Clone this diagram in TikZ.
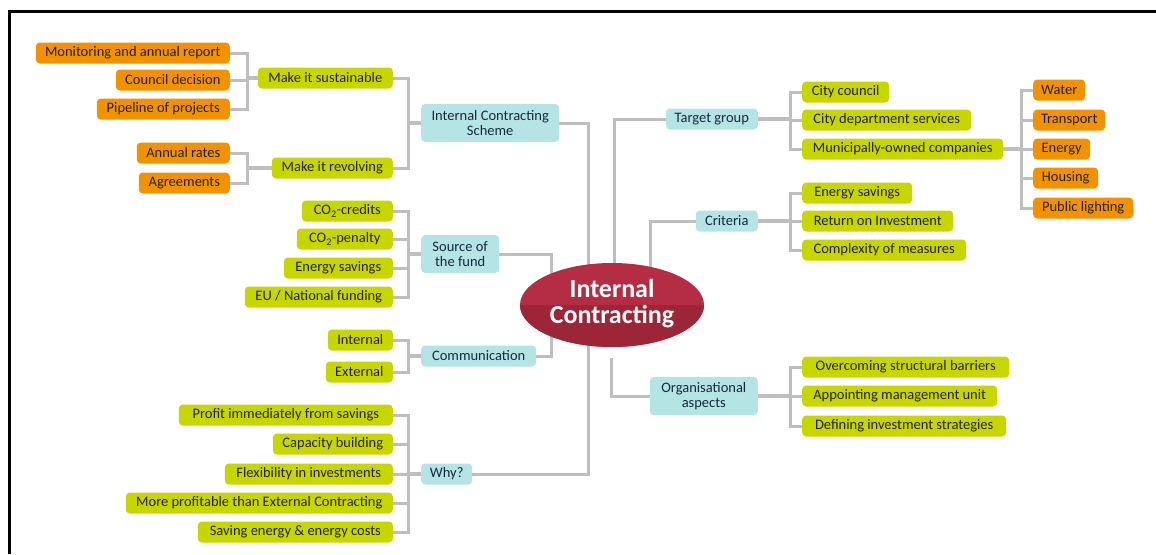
\documentclass[tikz,border=0pt]{standalone}
\usepackage{fontspec}
\setmainfont{Carlito}
\usetikzlibrary{shapes.geometric}
\pgfdeclarelayer{bg}\pgfsetlayers{bg,main}
\definecolor{gfill}{RGB}{200,214,0}
\definecolor{ofill}{RGB}{243,146,0}
\definecolor{bfill}{RGB}{180,228,228}
\definecolor{lgray}{RGB}{190,190,190}
\definecolor{txt}{RGB}{35,30,15}
\definecolor{btxt}{RGB}{25,40,65}
\definecolor{redtop}{RGB}{181,45,68}
\definecolor{reddark}{RGB}{157,37,56}
\newcommand{\leftbrack}[3]{%
  \foreach \c in {#1} {\draw[conn] (\c.east) -- (\c.east -| #3) -- (#3 |- #2.west);}
  \draw[pconn] (#3 |- #2.west) -- (#2.west);}
\newcommand{\rightbrack}[3]{%
  \foreach \c in {#1} {\draw[conn] (\c.west) -- (\c.west -| #3) -- (#3 |- #2.east);}
  \draw[pconn] (#3 |- #2.east) -- (#2.east);}
\begin{document}
\begin{tikzpicture}[x=1pt,y=-1pt,
  box/.style={rounded corners=4pt, inner sep=0pt, minimum height=21pt,
    font=\fontsize{14.5}{15.5}\selectfont, align=center},
  gb/.style={box, fill=gfill, text=txt},
  ob/.style={box, fill=ofill, text=txt},
  bb/.style={box, fill=bfill, text=btxt},
  conn/.style={draw=lgray, line width=3pt},
  pconn/.style={draw=lgray, line width=4.5pt}]
\useasboundingbox (0,0) rectangle (1156,554);
\draw[line width=3pt] (9.5,554) -- (9.5,11.7) -- (1156,11.7);

% central ellipse
\fill[redtop] (612,305) ellipse [x radius=92pt, y radius=42pt];
\begin{scope}
  \clip (510,305) rectangle (715,350);
  \fill[reddark] (612,305) ellipse [x radius=92pt, y radius=42pt];
\end{scope}
\node[ellipse, minimum width=184pt, minimum height=84pt, inner sep=0pt, text=white,
  font=\bfseries\fontsize{26}{26}\selectfont, align=center] (ic) at (612,304) {Internal\\Contracting};

% left orange
\node[ob, anchor=east, minimum width=194pt] (om1) at (230,53) {Monitoring and annual report};
\node[ob, anchor=east, minimum width=114pt] (om2) at (230,80) {Council decision};
\node[ob, anchor=east, minimum width=133pt] (om3) at (230,109) {Pipeline of projects};
\node[ob, anchor=east, minimum width=93pt] (om4) at (230,153) {Annual rates};
\node[ob, anchor=east, minimum width=91pt] (om5) at (230,183) {Agreements};

% left green
\node[gb, anchor=east, minimum width=135pt] (ms) at (393,78) {Make it sustainable};
\node[gb, anchor=east, minimum width=121pt] (mr) at (393,168) {Make it revolving};
\node[gb, anchor=east, minimum width=91pt] (s1) at (393,211) {CO\textsubscript{2}-credits};
\node[gb, anchor=east, minimum width=96pt] (s2) at (393,239) {CO\textsubscript{2}-penalty};
\node[gb, anchor=east, minimum width=109pt] (s3) at (393,268) {Energy savings};
\node[gb, anchor=east, minimum width=148pt] (s4) at (393,297) {EU / National funding};
\node[gb, anchor=east, minimum width=65pt] (c1) at (393,340) {Internal};
\node[gb, anchor=east, minimum width=67pt] (c2) at (393,372) {External};
\node[gb, anchor=east, minimum width=214pt] (w1) at (393,415) {Profit immediately from savings};
\node[gb, anchor=east, minimum width=120pt] (w2) at (393,444) {Capacity building};
\node[gb, anchor=east, minimum width=168pt] (w3) at (393,474) {Flexibility in investments};
\node[gb, anchor=east, minimum width=267pt] (w4) at (393,503) {More profitable than External Contracting};
\node[gb, anchor=east, minimum width=195pt] (w5) at (393,532) {Saving energy \& energy costs};

% blue left
\node[bb, anchor=west, minimum width=138pt, minimum height=38pt] (ics) at (421,123) {Internal Contracting\\Scheme};
\node[bb, anchor=west, minimum width=78pt, minimum height=38pt] (src) at (421,254) {Source of\\the fund};
\node[bb, anchor=west, minimum width=115pt] (com) at (421,356) {Communication};
\node[bb, anchor=west, minimum width=51pt] (why) at (421,474) {Why?};

% blue right
\node[bb, anchor=east, minimum width=92pt] (tg) at (758,119) {Target group};
\node[bb, anchor=east, minimum width=62pt] (cr) at (758,221) {Criteria};
\node[bb, anchor=east, minimum width=108pt, minimum height=38pt] (org) at (758,396) {Organisational\\aspects};

% right green
\node[gb, anchor=west, minimum width=87pt] (t1) at (802,92) {City council};
\node[gb, anchor=west, minimum width=169pt] (t2) at (802,120) {City department services};
\node[gb, anchor=west, minimum width=201pt] (t3) at (802,149) {Municipally-owned companies};
\node[gb, anchor=west, minimum width=110pt] (k1) at (802,193) {Energy savings};
\node[gb, anchor=west, minimum width=151pt] (k2) at (802,221) {Return on Investment};
\node[gb, anchor=west, minimum width=164pt] (k3) at (802,250) {Complexity of measures};
\node[gb, anchor=west, minimum width=207pt] (o1) at (802,367) {Overcoming structural barriers};
\node[gb, anchor=west, minimum width=195pt] (o2) at (802,396) {Appointing management unit};
\node[gb, anchor=west, minimum width=204pt] (o3) at (802,426) {Defining investment strategies};

% right orange
\node[ob, anchor=west, minimum width=52pt] (m1) at (1033,90) {Water};
\node[ob, anchor=west, minimum width=72pt] (m2) at (1033,120) {Transport};
\node[ob, anchor=west, minimum width=57pt] (m3) at (1033,149) {Energy};
\node[ob, anchor=west, minimum width=65pt] (m4) at (1033,178) {Housing};
\node[ob, anchor=west, minimum width=100pt] (m5) at (1033,208) {Public lighting};

% bracket coordinates
\coordinate (bxA) at (247,0);
\coordinate (bxB) at (408,0);
\coordinate (bxC) at (790,0);
\coordinate (bxD) at (1021,0);
\coordinate (orgend) at (611,358);

\begin{pgfonlayer}{bg}
  \leftbrack{om1,om2,om3}{ms}{bxA}
  \leftbrack{om4,om5}{mr}{bxA}
  \leftbrack{ms,mr}{ics}{bxB}
  \leftbrack{s1,s2,s3,s4}{src}{bxB}
  \leftbrack{c1,c2}{com}{bxB}
  \leftbrack{w1,w2,w3,w4,w5}{why}{bxB}
  \rightbrack{t1,t2,t3}{tg}{bxC}
  \rightbrack{k1,k2,k3}{cr}{bxC}
  \rightbrack{o1,o2,o3}{org}{bxC}
  \rightbrack{m1,m2,m3,m4,m5}{t3}{bxD}
  \draw[conn] (ics.east) -| ([xshift=-24pt]ic.center);
  \draw[conn] (src.east) -| ([xshift=-61pt]ic.center);
  \draw[conn] (com.east) -| ([xshift=-61pt]ic.center);
  \draw[conn] (why.east) -| ([xshift=-24pt]ic.center);
  \draw[conn] (tg.west) -| ([xshift=2pt]ic.center);
  \draw[conn] (cr.west) -| ([xshift=38pt]ic.center);
  \draw[conn] (org.west) -| (orgend);
\end{pgfonlayer}
\end{tikzpicture}
\end{document}
